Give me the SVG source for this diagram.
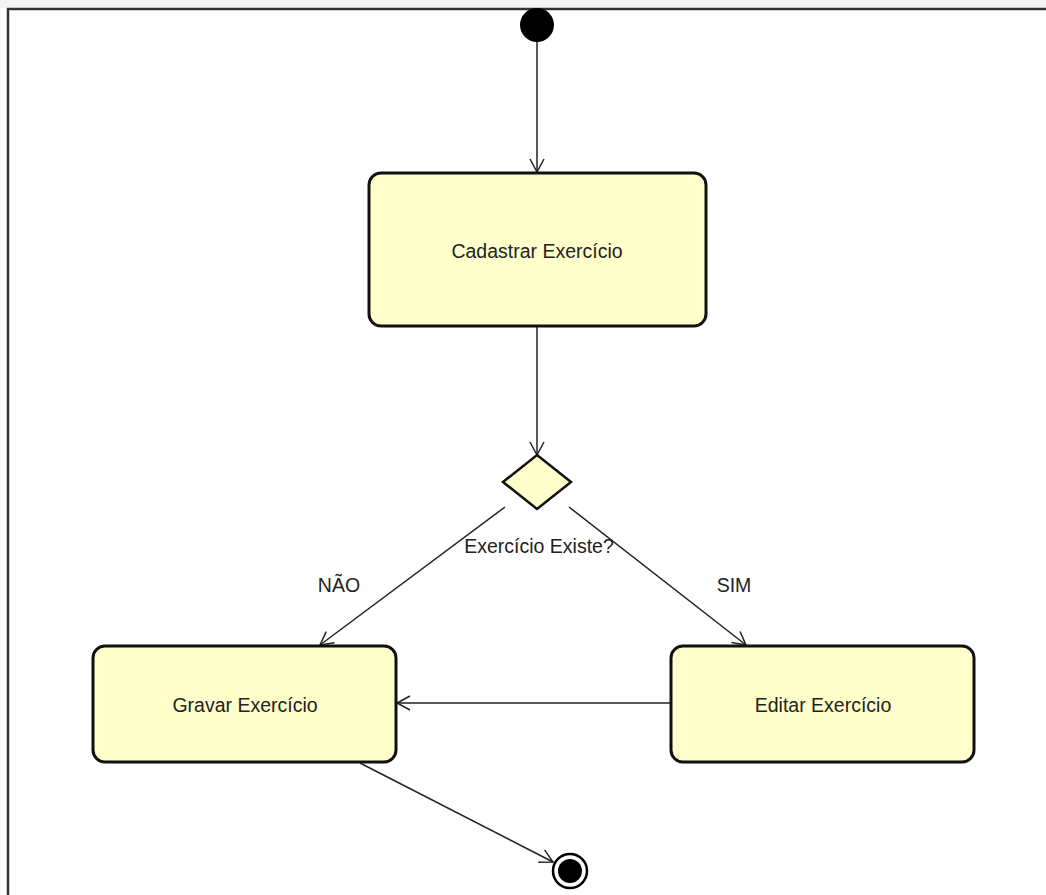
<svg xmlns="http://www.w3.org/2000/svg" width="1046" height="895" viewBox="0 0 1046 895">
  <style>
    .act { fill: #ffffcc; stroke: #111; stroke-width: 3; }
    .lbl { font-family: "Liberation Sans", Arial, sans-serif; font-size: 19.5px; fill: #222; text-anchor: middle; }
    .edge { stroke: #222; stroke-width: 1.5; fill: none; marker-end: url(#arrow); }
  </style>
  <defs>
    <marker id="arrow" markerUnits="userSpaceOnUse" markerWidth="20" markerHeight="20" refX="14" refY="8" orient="auto">
      <path d="M1,1 L14,8 L1,15" fill="none" stroke="#222" stroke-width="1.5"/>
    </marker>
  </defs>
  <rect x="0" y="0" width="1046" height="895" fill="#ffffff"/>
  <rect x="0" y="0" width="1046" height="8" fill="#f4f4f4"/>
  <g id="frame">
    <line x1="7" y1="9" x2="1046" y2="9" stroke="#333" stroke-width="2.5"/>
    <line x1="8" y1="8" x2="8" y2="895" stroke="#333" stroke-width="2.5"/>
  </g>
  <g id="connectors">
    <line class="edge" x1="537" y1="42" x2="537" y2="172"/>
    <line class="edge" x1="537" y1="327" x2="537" y2="455"/>
    <line class="edge" x1="505" y1="507" x2="320" y2="645"/>
    <line class="edge" x1="569" y1="507" x2="746" y2="645"/>
    <line class="edge" x1="670" y1="703" x2="397" y2="703"/>
    <line class="edge" x1="360" y1="763" x2="553" y2="862"/>
    <text class="lbl" x="339" y="592">NÃO</text>
    <text class="lbl" x="734" y="592">SIM</text>
  </g>
  <g id="initial">
    <circle cx="537" cy="25" r="17" fill="#000"/>
  </g>
  <g id="cadastrar">
    <rect class="act" x="369" y="173" width="337" height="153" rx="12"/>
    <text class="lbl" x="537" y="258">Cadastrar Exercício</text>
  </g>
  <g id="decision">
    <polygon points="537,455 571,482 537,509 503,482" fill="#ffffcc" stroke="#111" stroke-width="2.5"/>
    <text class="lbl" x="539" y="553">Exercício Existe?</text>
  </g>
  <g id="gravar">
    <rect class="act" x="93" y="646" width="303" height="116" rx="12"/>
    <text class="lbl" x="245" y="712">Gravar Exercício</text>
  </g>
  <g id="editar">
    <rect class="act" x="671" y="646" width="303" height="116" rx="12"/>
    <text class="lbl" x="823" y="712">Editar Exercício</text>
  </g>
  <g id="final">
    <circle cx="570" cy="871" r="17" fill="#fff" stroke="#000" stroke-width="2.5"/>
    <circle cx="570" cy="871" r="12" fill="#000"/>
  </g>
</svg>
